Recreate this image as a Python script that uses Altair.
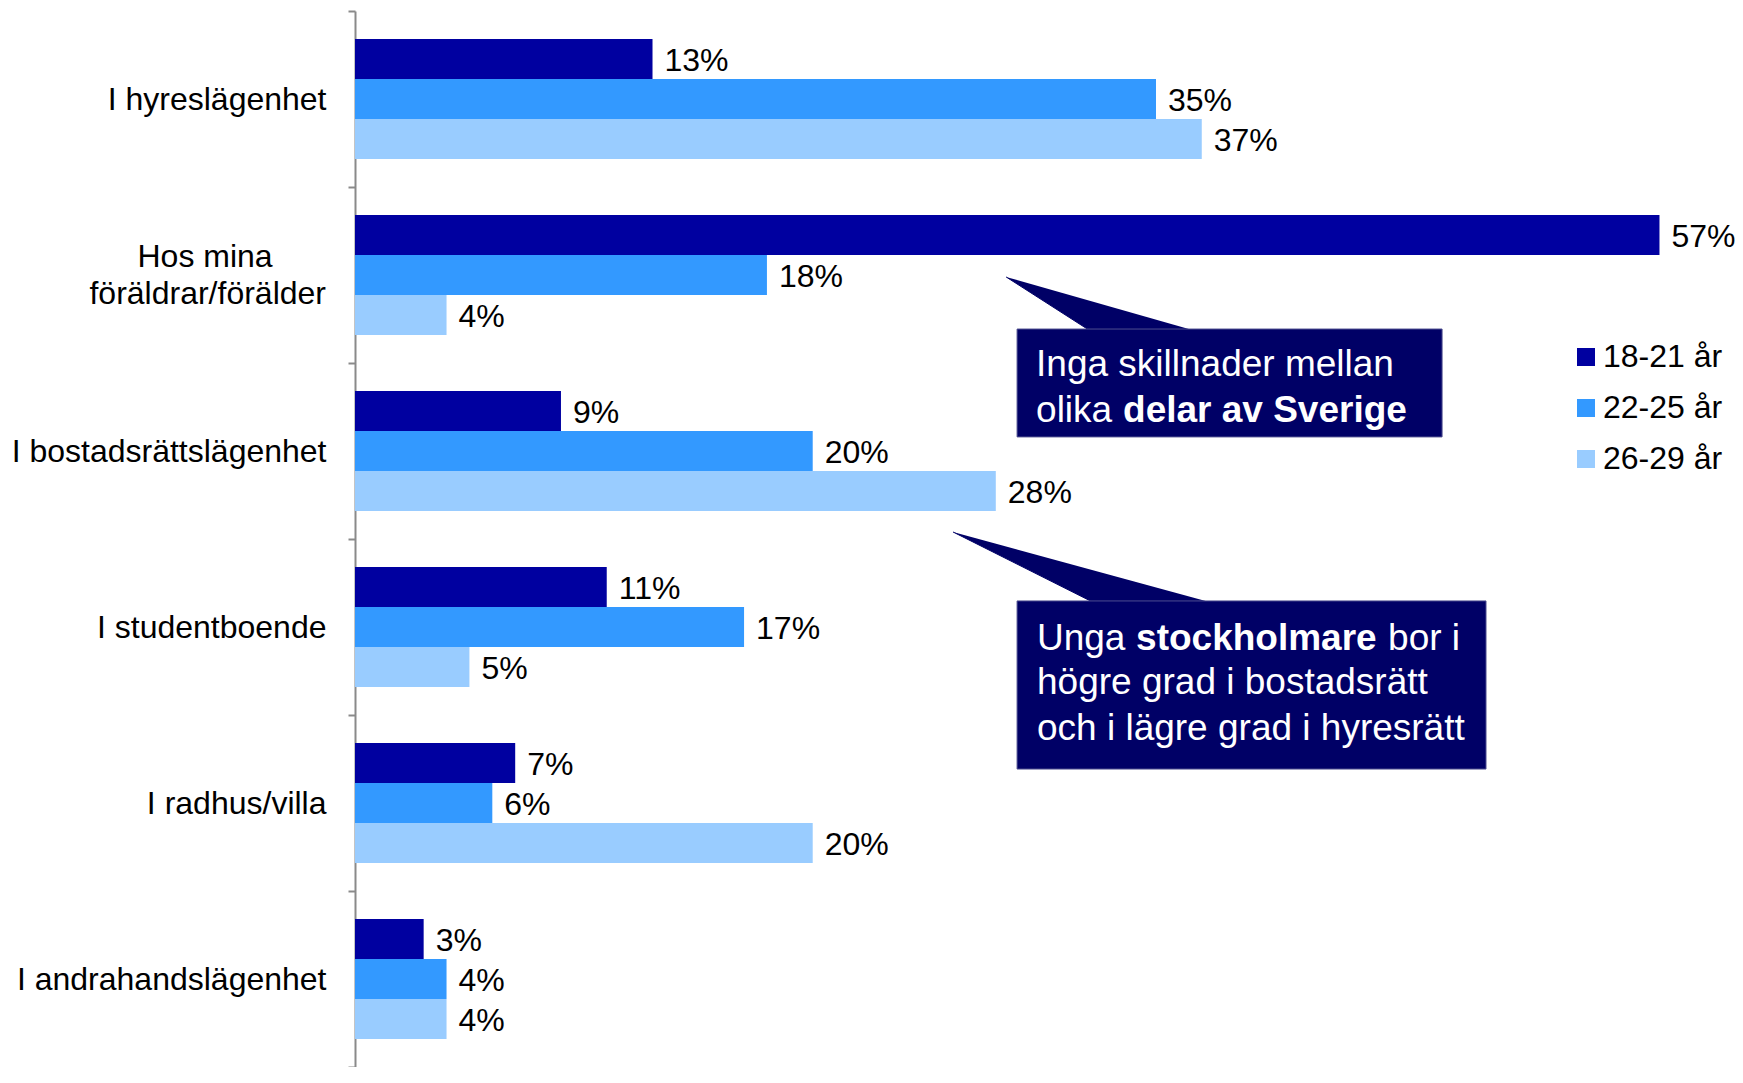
import altair as alt
import pandas as pd

# ---- data ----
categories = ["I hyreslägenhet",
              "Hos mina\u00a0\u00a0\u00a0\u00a0\u00a0\u00a0\u2060|föräldrar/förälder",
              "I bostadsrättslägenhet", "I studentboende",
              "I radhus/villa", "I andrahandslägenhet"]
series = ["18-21 år", "22-25 år", "26-29 år"]
v_18_21 = [13, 57, 9, 11, 7, 3]
v_22_25 = [35, 18, 20, 17, 6, 4]
v_26_29 = [37, 4, 28, 5, 20, 4]
colors = ["#0000A0", "#3399FF", "#99CCFF"]

# callout annotations (x in %, y in category units: 0 = top, 6 = bottom)
box_x = [28.93, 28.93]
box_x2 = [47.50, 49.42]
box_y = [1.807, 3.352]
box_y2 = [2.420, 4.307]
ptr_id = ["p1", "p1", "p1", "p2", "p2", "p2"]
ptr_x = [28.45, 32.12, 36.70, 26.13, 32.29, 37.45]
ptr_y = [1.511, 1.817, 1.817, 2.960, 3.362, 3.362]
ptr_order = [0, 1, 2, 0, 1, 2]
ann_text = ["Inga skillnader mellan", "olika", "delar av Sverige",
            "Unga", "stockholmare", "bor i",
            "högre grad i bostadsrätt", "och i lägre grad i hyresrätt"]
ann_x = [29.76, 29.76, 33.56, 29.80, 34.13, 45.14, 29.80, 29.80]
ann_y = [2.014, 2.270, 2.270, 3.571, 3.571, 3.571, 3.821, 4.077]
ann_bold = [False, False, True, False, True, False, False, False]

FONT = "Liberation Sans"
NAVY = "#000066"

rows = []
for s, vals in zip(series, [v_18_21, v_22_25, v_26_29]):
    for c, v in zip(categories, vals):
        rows.append({"category": c, "series": s, "value": v, "label": f"{v}%"})
df = pd.DataFrame(rows)

xscale = alt.Scale(domain=[0, 60.3], nice=False, zero=True)

yaxis = alt.Axis(title=None, labelFontSize=32, labelFont=FONT, labelColor="black",
                 labelLimit=600, labelPadding=22,
                 tickSize=7, tickColor="#8a8a8a",
                 domainColor="#8a8a8a", domainWidth=2, tickWidth=2, tickBand="extent",
                 labelExpr="indexof(datum.label, '|') >= 0 ? '' : datum.label",
                 grid=False)

base = alt.Chart(df).encode(
    y=alt.Y("category:N", sort=categories,
            scale=alt.Scale(paddingInner=0, paddingOuter=0), axis=yaxis),
    yOffset=alt.YOffset("series:N", sort=series,
                        scale=alt.Scale(paddingInner=0, paddingOuter=0.7)),
    x=alt.X("value:Q", scale=xscale, axis=None),
)

bars = base.mark_bar(cornerRadius=0).encode(
    color=alt.Color("series:N", sort=series,
                    scale=alt.Scale(domain=series, range=colors),
                    legend=alt.Legend(title=None, orient="none", legendX=1215, legendY=330,
                                      symbolType="square", symbolSize=324,
                                      symbolStrokeWidth=0, labelFontSize=32,
                                      labelFont=FONT, labelColor="black",
                                      rowPadding=19, labelOffset=1, padding=0))
)

values = base.mark_text(align="left", baseline="middle", dx=12, dy=2, fontSize=32,
                        font=FONT, color="black").encode(text="label:N")

# two-line category label, placed at the axis (x = 0)
multi_label = base.transform_filter(
    f"indexof(datum.category, '|') >= 0 && datum.series == '{series[0]}'"
).transform_calculate(zero="0").mark_text(
    align="right", baseline="middle", dx=-29, dy=22, fontSize=32,
    font=FONT, color="black", lineBreak="|", lineHeight=37).encode(
    x=alt.X("zero:Q", scale=xscale, axis=None), text="category:N")

inner = alt.layer(bars, values, multi_label)

yq = alt.Scale(domain=[0, 6], reverse=True, nice=False, zero=False)

box_df = pd.DataFrame({"x": box_x, "x2": box_x2, "y": box_y, "y2": box_y2})
boxes = alt.Chart(box_df).mark_rect(fill=NAVY, stroke="#4d4d8f", strokeWidth=1).encode(
    x=alt.X("x:Q", scale=xscale, axis=None), x2="x2:Q",
    y=alt.Y("y:Q", scale=yq, axis=None), y2="y2:Q")

ptr_df = pd.DataFrame({"id": ptr_id, "x": ptr_x, "y": ptr_y, "o": ptr_order})
pointers = alt.Chart(ptr_df).mark_line(fill=NAVY, stroke=NAVY, strokeWidth=1,
                                       interpolate="linear").encode(
    x=alt.X("x:Q", scale=xscale, axis=None),
    y=alt.Y("y:Q", scale=yq, axis=None),
    detail="id:N", order="o:Q")

txt_df = pd.DataFrame({"t": ann_text, "x": ann_x, "y": ann_y, "b": ann_bold})
txt_normal = alt.Chart(txt_df).transform_filter("!datum.b").mark_text(
    align="left", baseline="middle", fontSize=37, font=FONT, color="white").encode(
    x=alt.X("x:Q", scale=xscale, axis=None),
    y=alt.Y("y:Q", scale=yq, axis=None), text="t:N")
txt_bold = alt.Chart(txt_df).transform_filter("datum.b").mark_text(
    align="left", baseline="middle", fontSize=37, font=FONT, fontWeight="bold",
    color="white").encode(
    x=alt.X("x:Q", scale=xscale, axis=None),
    y=alt.Y("y:Q", scale=yq, axis=None), text="t:N")

chart = alt.layer(inner, pointers, boxes, txt_normal, txt_bold).resolve_scale(
    y="independent"
).properties(
    width=1380, height=1056,
    autosize=alt.AutoSizeParams(type="none"),
    padding={"left": 347, "top": 3, "right": 0, "bottom": 0},
).configure_view(strokeWidth=0)

chart.save("out.html", embed_options={"renderer": "svg", "actions": False})
